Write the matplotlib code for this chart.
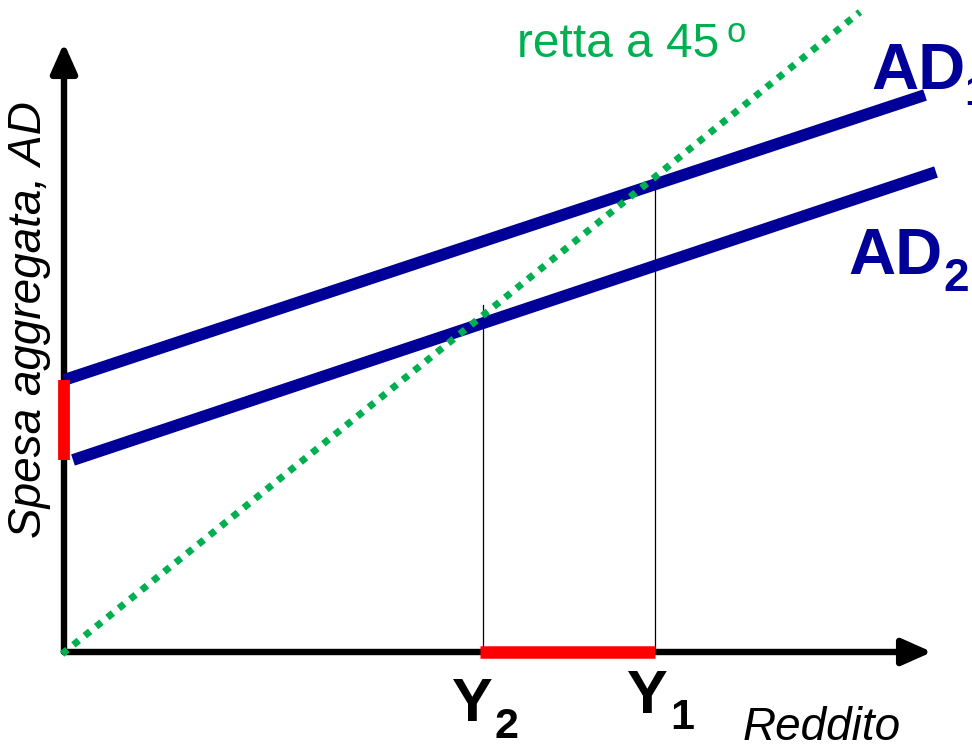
import matplotlib
matplotlib.use('Agg')
import matplotlib.pyplot as plt

plt.rcParams['font.family'] = ['Liberation Sans', 'DejaVu Sans']

# dati del grafico (origine = incrocio degli assi)
ad1_x = [0, 861]
ad1_y = [272, 557]
ad2_x = [9, 872]
ad2_y = [192, 480]
retta45_x = [-2, 796]
retta45_y = [-2, 640]
y_eq = [419, 591]          # Y2, Y1
y_eq_top = [347, 477]      # altezza delle verticali
y_eq_labels = ['2', '1']
red_x = [416, 591]         # tratto rosso sull'asse delle ascisse
red_y = [192, 272]         # tratto rosso sull'asse delle ordinate
x_max = 868
y_max = 609

blu = '#000099'
verde = '#00b050'
rosso = '#ff0000'

fig = plt.figure(figsize=(9.72, 7.45), dpi=100)
ax = fig.add_axes([0, 0, 1, 1])
ax.set_xlim(-64, 908)
ax.set_ylim(-93, 652)
ax.axis('off')

# assi con frecce
ax.annotate('', xy=(x_max, 0), xytext=(0, 0),
            arrowprops=dict(arrowstyle='-|>,head_length=0.9,head_width=0.4',
                            mutation_scale=20, lw=4.6, color='black',
                            shrinkA=0, shrinkB=0))
ax.annotate('', xy=(0, y_max), xytext=(0, 0),
            arrowprops=dict(arrowstyle='-|>,head_length=0.9,head_width=0.4',
                            mutation_scale=20, lw=4.6, color='black',
                            shrinkA=0, shrinkB=0))

# verticali sottili
for xv, yt in zip(y_eq, y_eq_top):
    ax.plot([xv, xv], [0, yt], color='black', lw=0.9, zorder=2)

# curve AD
ax.plot(ad1_x, ad1_y, color=blu, lw=8.5, solid_capstyle='butt', zorder=3)
ax.plot(ad2_x, ad2_y, color=blu, lw=8.5, solid_capstyle='butt', zorder=3)

# retta a 45 gradi
ax.plot(retta45_x, retta45_y, color=verde, lw=5, dashes=(1, 1.1),
        dash_capstyle='butt', zorder=4)

# tratti rossi
ax.plot(red_x, [0, 0], color=rosso, lw=9, solid_capstyle='butt', zorder=5)
ax.plot([0, 0], red_y, color=rosso, lw=8.5, solid_capstyle='butt', zorder=5)

# etichette
ax.text(807, 563, 'AD', color=blu, fontsize=47, fontweight='bold')
ax.text(900, 547, '1', color=blu, fontsize=31, fontweight='bold')
ax.text(784, 378, 'AD', color=blu, fontsize=47, fontweight='bold')
ax.text(879, 361, '2', color=blu, fontsize=33, fontweight='bold')

ax.text(y_eq[0] - 31, -69, 'Y', fontsize=44, fontweight='bold')
ax.text(y_eq[0] + 11, -86, y_eq_labels[0], fontsize=31, fontweight='bold')
ax.text(y_eq[1] - 28, -61, 'Y', fontsize=44, fontweight='bold')
ax.text(y_eq[1] + 15, -77, y_eq_labels[1], fontsize=31, fontweight='bold')

ax.text(679, -88, 'Reddito', fontsize=33, style='italic')
ax.text(-35, 332, 'Spesa aggregata, AD', fontsize=33, style='italic',
        rotation=90, ha='center', va='center')

ax.text(453, 595, 'retta a 45', color=verde, fontsize=34.5)
ax.text(662, 610, 'o', color=verde, fontsize=25)

plt.savefig('out.png', dpi=100)
